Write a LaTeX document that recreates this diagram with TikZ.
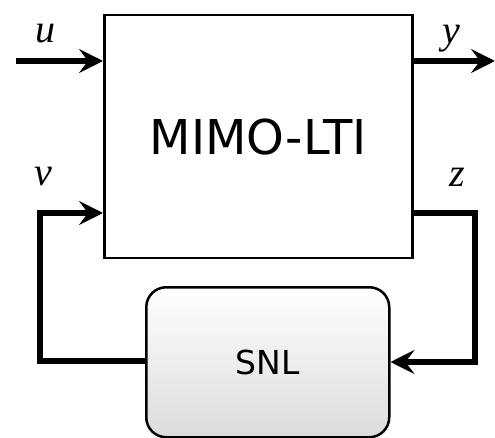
\documentclass[tikz,border=0pt]{standalone}
\usepackage{fontspec}
\setmainfont{Liberation Serif}
\newfontfamily\boxfont{DejaVu Sans}
\usetikzlibrary{arrows.meta}
\tikzset{
  conn/.style={line width=6pt, line join=miter, -{Stealth[length=24pt,width=24pt,inset=9pt]}},
  lbl/.style={font=\fontsize{40}{40}\selectfont\itshape, inner sep=0pt},
}
\begin{document}
\begin{tikzpicture}[x=1pt,y=-1pt]
\useasboundingbox (0,0) rectangle (495,438);
\node[draw, line width=2.5pt, minimum width=308pt, minimum height=243pt, inner sep=0pt, anchor=north west, font=\boxfont\fontsize{48}{48}\selectfont] (mimo) at (103,14) {MIMO-LTI};
\node[draw, line width=2.5pt, rounded corners=20pt, minimum width=243pt, minimum height=150pt, inner sep=0pt, anchor=north west, top color=white, bottom color=black!14, font=\boxfont\fontsize{33}{33}\selectfont] (snl) at (145,286) {SNL};
\coordinate (uin) at (16,61);
\coordinate (yout) at (495,61);
\coordinate (lc1) at (40,361);
\coordinate (lc2) at (40,213);
\coordinate (rc1) at (475,213);
\coordinate (rc2) at (475,362);
\draw[conn] (uin) -- (uin -| mimo.west);
\draw[conn] (yout -| mimo.east) -- (yout);
\draw[conn] (snl.west |- lc1) -- (lc1) -- (lc2) -- (lc2 -| mimo.west);
\draw[conn] (rc1 -| mimo.east) -- (rc1) -- (rc2) -- (rc2 -| snl.east);
\node[lbl] (lu) at (45,34) {u};
\node[lbl] (ly) at (451,39) {y};
\node[lbl] (lv) at (43,177) {v};
\node[lbl] (lz) at (457,177) {z};
\end{tikzpicture}
\end{document}
